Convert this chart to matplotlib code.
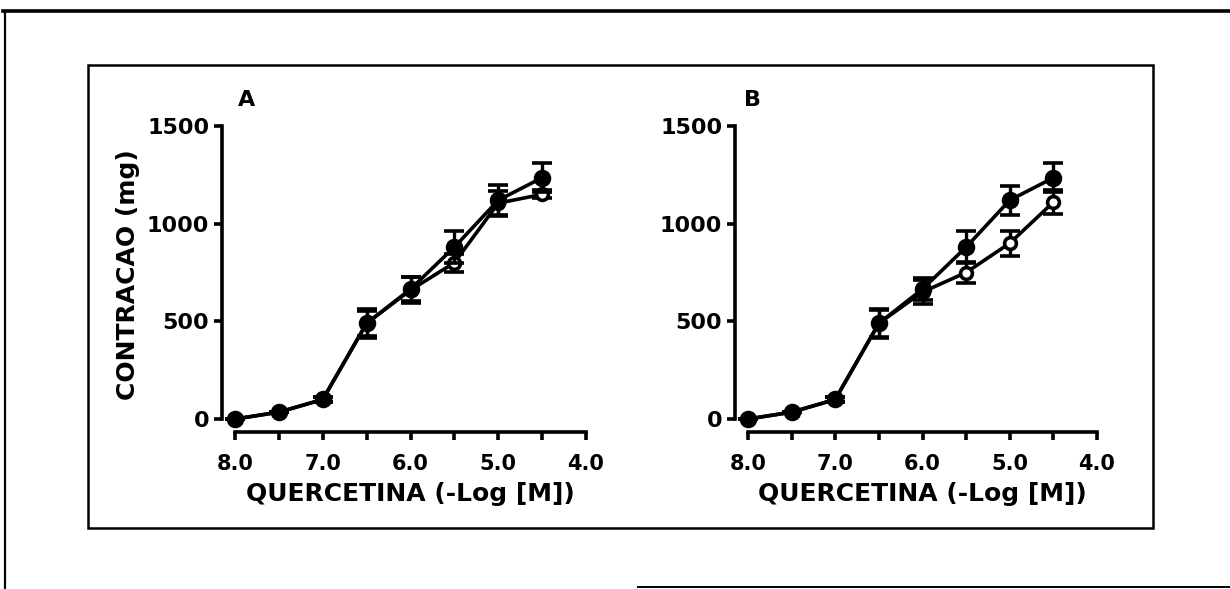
import matplotlib
matplotlib.use('Agg')
import matplotlib.pyplot as plt
from matplotlib.lines import Line2D
from matplotlib.patches import Rectangle
from matplotlib.ticker import MultipleLocator

# quercetin concentration, -log[M]
conc = [8.0, 7.5, 7.0, 6.5, 6.0, 5.5, 5.0, 4.5]
xtick_pos = [8.0, 7.0, 6.0, 5.0, 4.0]
xtick_labels = ['8.0', '7.0', '6.0', '5.0', '4.0']
ytick_pos = [0, 500, 1000, 1500]

# contraction (mg), panel A
a_closed = [0, 35, 100, 490, 665, 880, 1120, 1235]
a_closed_err = [0, 0, 15, 75, 60, 80, 80, 75]
a_open = [0, 35, 100, 490, 660, 800, 1105, 1150]
a_open_err = [0, 0, 15, 65, 65, 45, 60, 20]

# contraction (mg), panel B
b_closed = [0, 35, 100, 490, 665, 880, 1120, 1235]
b_closed_err = [0, 0, 15, 75, 55, 80, 75, 75]
b_open = [0, 35, 100, 490, 650, 750, 900, 1110]
b_open_err = [0, 0, 15, 70, 60, 55, 65, 60]

W, H = 1230, 589
BOLD = dict(family=['DejaVu Sans'], weight='bold')


def fx(px):
    return px / W


def fy(py):
    return 1 - py / H


def errline(ax, y, yerr, filled, z):
    eb = ax.errorbar(conc, y, yerr=yerr, color='black', lw=2.6,
                     marker='o', ms=10 if filled else 8.5,
                     mfc='black' if filled else 'white', mec='black', mew=2.6,
                     capsize=7, capthick=2.4, elinewidth=2.4, zorder=z)
    for art in eb.get_children():
        art.set_clip_on(False)


def panel(rect, closed, closed_err, opened, opened_err, letter, lx):
    ax = fig.add_axes(rect)
    errline(ax, opened, opened_err, False, 3)
    errline(ax, closed, closed_err, True, 4)

    ax.set_xlim(8.0, 4.0)
    ax.set_ylim(0, 1500)
    for s in ('top', 'right'):
        ax.spines[s].set_visible(False)
    for s in ('left', 'bottom'):
        ax.spines[s].set_position(('outward', 9.5))
        ax.spines[s].set_linewidth(2.6)

    ax.set_xticks(xtick_pos)
    ax.xaxis.set_minor_locator(MultipleLocator(0.5))
    ax.set_xticklabels(xtick_labels, fontsize=15, **BOLD)
    ax.set_yticks(ytick_pos)
    ax.set_yticklabels([str(v) for v in ytick_pos], fontsize=16, **BOLD)
    ax.tick_params(axis='both', which='both', direction='out', length=6, width=2.6)
    ax.tick_params(axis='x', pad=10)
    ax.tick_params(axis='y', pad=3)

    ax.text(0.5, -0.256, 'QUERCETINA (-Log [M])', transform=ax.transAxes,
            ha='center', va='center', fontsize=18, **BOLD)
    ax.text(lx, 1.089, letter, transform=ax.transAxes,
            ha='center', va='center', fontsize=16, **BOLD)
    return ax


fig = plt.figure(figsize=(W / 100, H / 100), dpi=100)

# page frame and figure box
fig.add_artist(Line2D([fx(3), fx(W)], [fy(11), fy(11)], color='black', lw=2.6))
fig.add_artist(Line2D([fx(5), fx(5)], [fy(11), fy(H)], color='black', lw=1.6))
fig.add_artist(Line2D([fx(638), fx(W)], [fy(587), fy(587)], color='black', lw=1.4))
fig.add_artist(Rectangle((fx(88), fy(528)), fx(1153 - 88), (528 - 65) / H,
                         transform=fig.transFigure, fill=False, ec='black', lw=1.8))

axA = panel([fx(235), fy(419), fx(351), 293 / H],
            a_closed, a_closed_err, a_open, a_open_err, 'A', 0.034)
axB = panel([fx(748), fy(419), fx(349), 293 / H],
            b_closed, b_closed_err, b_open, b_open_err, 'B', 0.014)

fig.text(fx(128), fy(275), 'CONTRACAO (mg)', rotation=90,
         ha='center', va='center', fontsize=18, **BOLD)

fig.savefig('out.png', dpi=100)
